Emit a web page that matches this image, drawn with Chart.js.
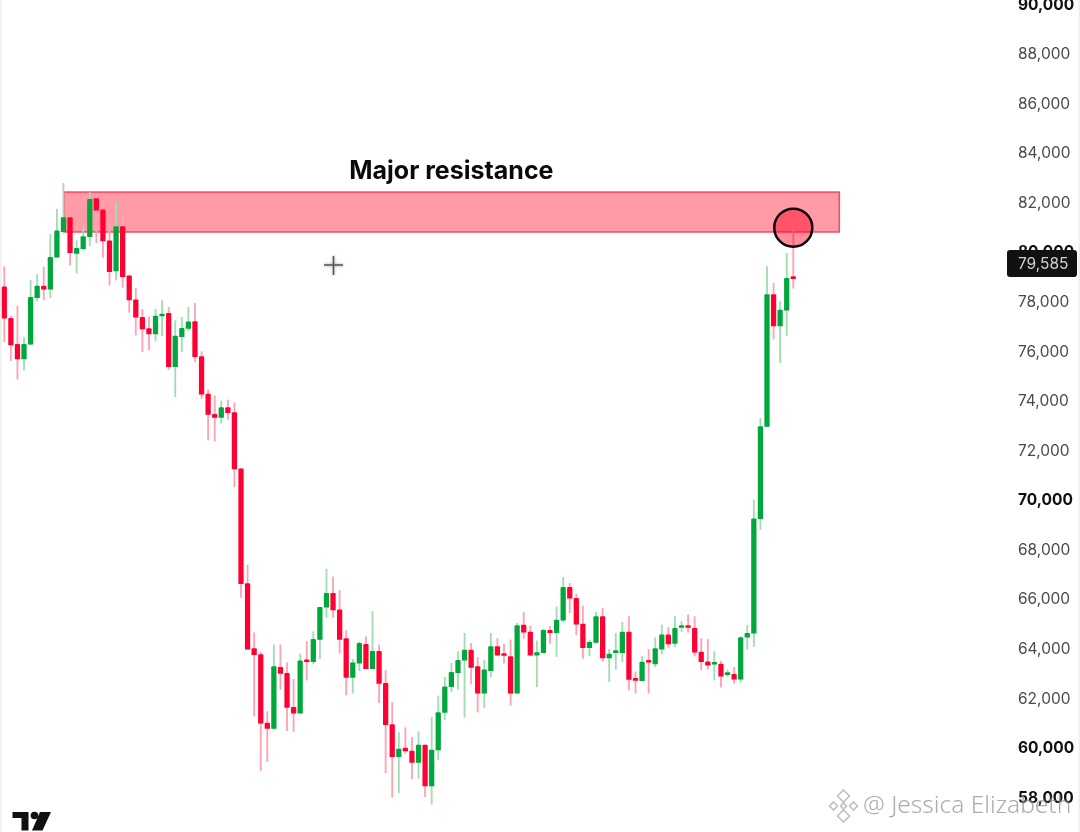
<!DOCTYPE html>
<html>
<head>
<meta charset="utf-8">
<title>Major resistance</title>
<script src="https://cdn.jsdelivr.net/npm/chart.js@4"></script>
<style>
html,body{margin:0;padding:0;background:#fff;overflow:hidden}
#wrap{width:1080px;height:832px;position:relative}
#chart{display:block;filter:blur(0.4px)}
</style>
</head>
<body>
<div id="wrap"><canvas id="chart" width="1080" height="832"></canvas></div>
<script>
const opens=[78590,77320,76270,75680,76270,78150,78620,78490,79780,80810,81380,79930,80130,80610,82150,81690,80440,79230,81020,79030,78060,77360,76900,76690,77410,77520,75370,76580,76910,77180,75770,
74260,73440,73320,73710,73510,71240,66610,63990,63750,60980,60770,63230,62990,61620,61380,63530,63460,64360,65660,66220,65550,64390,62830,63400,64160,63180,63880,62590,60920,59630,59980,59860,59400,60100,58450,59900,
61410,62450,63020,63520,63930,63260,62190,63100,64070,63760,63670,62190,64940,64660,63720,63830,64730,64630,65140,66460,66020,64980,64030,64240,65280,63610,63830,63830,64660,62760,62700,63490,63370,63970,64550,64200,64840,64890,64810,63850,63460,63360,63370,62940,62950,62760,
64450,64610,69230,72950,78270,77010,77650,78960];
const highs=[79400,77410,77810,76550,78860,79090,79380,80710,81720,82760,81660,80450,80990,82390,82330,81960,81220,82000,81580,79030,78530,77680,77380,77680,78030,77760,77220,77360,77760,77920,75970,
74430,74190,73980,74020,73910,71240,67360,64630,63850,61450,64140,64140,63420,62750,63770,64280,64670,65660,67190,66890,66330,64710,63560,64260,64470,65490,64140,63100,61810,60600,60800,60410,60640,60100,61220,62080,
62830,63400,63870,64610,64200,63640,63530,64610,64400,64160,64340,65010,65450,64900,64300,64740,64880,65680,66870,66620,66190,65710,64340,65450,65620,63960,64610,65050,65280,63050,63670,63960,64420,64940,64850,65280,65080,65350,65280,64390,64360,63870,63490,63130,63230,64470,
64930,69990,73280,79400,78730,77990,79940,81180];
const lows=[76380,75610,74860,75230,76240,78020,78060,78150,79780,80750,79470,79130,80070,80240,80370,79780,78660,78860,78570,77550,76640,75970,76040,76400,76620,75260,74160,75970,76820,75570,74090,
72410,72380,73080,73240,70520,66060,63970,61270,59070,59430,60730,62350,60680,60640,61380,62720,63370,63580,65250,65250,63800,62120,62190,63100,63180,63180,61810,58980,57990,58180,59760,58740,58760,58020,57710,59500,
61110,62250,62350,61220,62560,61430,61610,62860,63720,63400,61710,62190,64400,63720,62450,63830,64200,63670,65080,65440,64550,63600,63690,64200,63490,62660,63150,63460,62320,62190,62700,62190,63260,63770,64040,64070,64670,64650,63690,63130,63150,62720,62430,62860,62590,62630,
63960,64070,68800,72950,76480,75530,76620,78530];
const closes=[77320,76240,75680,76270,78160,78620,78490,79780,80850,81380,79970,80140,80610,82120,81680,80440,79200,81020,79000,78060,77360,76890,76690,77410,77490,75370,76600,76910,77170,75770,74260,
73440,73320,73710,73510,71240,66610,63970,63750,60980,60770,63260,62990,61620,61380,63500,63460,64360,65660,66220,65550,64360,62830,63420,64200,63180,63880,62590,60920,59630,59940,59860,59400,60100,58450,59900,61410,
62450,63030,63520,63930,63230,62190,63130,64070,63720,63710,62190,64920,64650,63720,63830,64740,64630,65140,66460,66020,64980,64030,64240,65280,63610,63770,63870,64660,62750,62710,63450,63440,63990,64550,64180,64810,64890,64840,63850,63460,63320,63400,62880,62990,62760,64430,
64610,69230,72950,78270,77010,77650,78930,78920];

const tickValues=[58000,60000,62000,64000,66000,68000,70000,72000,74000,76000,78000,80000,82000,84000,86000,88000,90000];
const boldTicks=[58000,60000,70000,80000,90000];
const lastPrice=79585;
const zoneTop=82410, zoneBottom=80800, zoneStart=9.08, zoneEnd=127;
const zoneLabel="Major resistance";
const circleSpot=[{x:120,y:80975}];
const watermark="@ Jessica Elizabeth";

function isBold(t){
    return !!t.tick && boldTicks.includes(t.tick.value);
}

let wicks=[], bodies=[], wickColors=[], bodyColors=[];
for(let i in opens){
    let up=closes[i]>=opens[i];
    wicks.push({x:+i,y:[lows[i],highs[i]]});
    bodies.push({x:+i,y:[opens[i],closes[i]]});
    wickColors.push(up?"#a3dcb3":"#ffa3b3");
    bodyColors.push(up?"#00a73c":"#ff0033");
}

// resistance box goes under the candles
const zonePlugin={
    id:'zone',
    beforeDatasetsDraw(chart){
        let c=chart.ctx, xs=chart.scales.x, ys=chart.scales.y;
        let x1=xs.getPixelForValue(zoneStart), x2=xs.getPixelForValue(zoneEnd);
        let y1=ys.getPixelForValue(zoneTop), y2=ys.getPixelForValue(zoneBottom);
        c.save();
        c.fillStyle="#ff9aa7";
        c.fillRect(x1,y1,x2-x1,y2-y1);
        c.strokeStyle="#ff4560";
        c.lineWidth=1.5;
        c.strokeRect(x1,y1,x2-x1,y2-y1);
        c.restore();
    }
};

const overlayPlugin={
    id:'overlay',
    afterDraw(chart){
        let c=chart.ctx, xs=chart.scales.x, ys=chart.scales.y;
        c.save();

        // thin edges of the screenshot
        c.fillStyle="#eeeeee";
        c.fillRect(0,0,1.5,832);
        c.fillRect(1078.5,0,1.5,832);

        // title over the box
        c.fillStyle="#0a0a0a";
        c.font="700 25px Inter";
        c.textAlign="center";
        c.textBaseline="middle";
        c.fillText(zoneLabel,xs.getPixelForValue(68),ys.getPixelForValue(83230));

        // last price tag
        let py=ys.getPixelForValue(lastPrice);
        c.fillStyle="#111";
        c.beginPath();
        c.roundRect(1007,py-12,70,27,3);
        c.fill();
        c.fillStyle="#cfcfcf";
        c.font="15.5px Inter";
        c.textAlign="left";
        c.fillText(lastPrice.toLocaleString("en-US"),1018,py+2);

        // mouse cross
        c.strokeStyle="#555";
        c.lineWidth=1.5;
        c.shadowColor="rgba(0,0,0,.45)";
        c.shadowBlur=3;
        c.beginPath();
        c.moveTo(324,265);c.lineTo(343,265);
        c.moveTo(333.5,256);c.lineTo(333.5,275);
        c.stroke();
        c.shadowBlur=0;

        // tradingview logo
        c.fillStyle="#111";
        c.beginPath();
        c.moveTo(12.5,812);c.lineTo(28.5,812);c.lineTo(28.5,830.5);c.lineTo(21.5,830.5);c.lineTo(21.5,818);c.lineTo(12.5,818);
        c.closePath();c.fill();
        c.beginPath();c.arc(34.5,815.5,3.8,0,Math.PI*2);c.fill();
        c.beginPath();
        c.moveTo(40,812);c.lineTo(51,812);c.lineTo(42.5,830.5);c.lineTo(32,830.5);
        c.closePath();c.fill();

        // watermark
        c.shadowColor="rgba(255,255,255,.9)";
        c.shadowBlur=2;
        c.fillStyle="rgba(110,110,110,.58)";
        c.font="300 24.5px 'Noto Sans'";
        c.textAlign="left";
        c.textBaseline="middle";
        c.fillText(watermark,863,806);
        c.strokeStyle="rgba(150,150,150,.6)";
        c.lineWidth=1.6;
        let d=[[843.5,796,6],[833.5,806,4],[853.5,806,4],[843.5,806,3],[843.5,816,6]];
        for(let k of d){
            c.beginPath();
            c.moveTo(k[0],k[1]-k[2]);c.lineTo(k[0]+k[2],k[1]);c.lineTo(k[0],k[1]+k[2]);c.lineTo(k[0]-k[2],k[1]);
            c.closePath();c.stroke();
        }
        c.restore();
    }
};

let ctx=document.getElementById('chart').getContext('2d');
let myChart=new Chart(ctx,{
    type:'bar',
    data:{
        datasets:[
            {type:'line',data:circleSpot,showLine:false,order:0,pointRadius:19,pointHoverRadius:19,
             pointBackgroundColor:"rgba(255,0,35,.45)",pointBorderColor:"#0a0a0a",pointBorderWidth:2.5},
            {data:bodies,backgroundColor:bodyColors,barThickness:4.6,minBarLength:2,grouped:false,order:1,borderRadius:1},
            {data:wicks,backgroundColor:wickColors,barThickness:1.2,grouped:false,order:2}
        ]
    },
    plugins:[zonePlugin,overlayPlugin],
    options:{
        responsive:false,
        animation:false,
        devicePixelRatio:1,
        layout:{padding:0,autoPadding:false},
        plugins:{legend:{display:false},tooltip:{enabled:false},title:{display:false}},
        scales:{
            x:{type:'linear',display:false,offset:false,min:-0.654,max:152.2,grid:{display:false,offset:false}},
            y:{
                position:'right',
                offset:false,
                min:56590,
                max:90160,
                grid:{display:false,drawTicks:false,offset:false},
                border:{display:false},
                afterBuildTicks(scale){scale.ticks=tickValues.map(v=>({value:v}));},
                afterFit(scale){
                    // chart area has to fill the full canvas height, labels may clip
                    scale.width=75;
                    scale.paddingTop=0;
                    scale.paddingBottom=0;
                },
                ticks:{
                    autoSkip:false,
                    padding:13,
                    labelOffset:1,
                    callback:v=>v.toLocaleString("en-US"),
                    color:t=>isBold(t)?"#111":"#4a4a4a",
                    font:t=>({family:"Inter",size:15.5,weight:isBold(t)?"700":"400"})
                }
            }
        }
    }
});
</script>
</body>
</html>
